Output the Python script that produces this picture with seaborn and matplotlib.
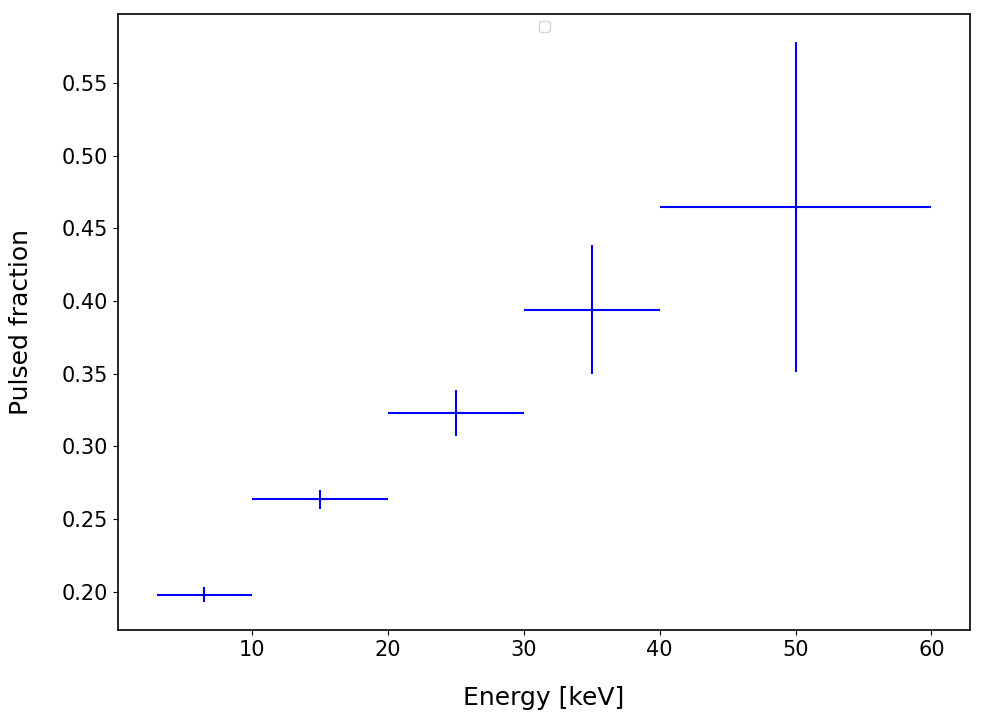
import numpy as np
import pandas as pd
import matplotlib
matplotlib.use('Agg')
import matplotlib.pyplot as plt
import seaborn as sns

import warnings
warnings.filterwarnings('ignore')

# energy bins [keV] and pulsed fraction
energy = [6.5, 15, 25, 35, 50]
e_lo = [3, 10, 20, 30, 40]
e_hi = [10, 20, 30, 40, 60]
pf = [0.198, 0.2636, 0.3228, 0.3938, 0.4648]
pf_err = [0.0052, 0.0064, 0.0157, 0.0444, 0.1135]

df = pd.DataFrame({'energy': energy, 'lo': e_lo, 'hi': e_hi, 'pf': pf, 'err': pf_err})
xerr = [df['energy'] - df['lo'], df['hi'] - df['energy']]

sns.set_style('white', {'axes.edgecolor': 'black', 'xtick.bottom': True, 'ytick.left': True,
                        'xtick.color': 'black', 'ytick.color': 'black',
                        'axes.labelcolor': 'black', 'text.color': 'black'})
plt.rcParams['font.family'] = ['DejaVu Sans']

fig, ax = plt.subplots(figsize=(9.83, 7.21), dpi=100)
ax.errorbar(df['energy'], df['pf'], xerr=xerr, yerr=df['err'],
            fmt='none', ecolor='blue', elinewidth=1.5)
ax.legend(loc='upper center')  # empty legend box as in original

ax.set_xlabel('Energy [keV]', fontsize=18, labelpad=19)
ax.set_ylabel('Pulsed fraction', fontsize=18, labelpad=21)
ax.tick_params(labelsize=15)
for s in ax.spines.values():
    s.set_linewidth(1.2)

plt.subplots_adjust(left=0.12, right=0.987, top=0.981, bottom=0.126)
plt.savefig('out.png', dpi=100)
plt.close()
